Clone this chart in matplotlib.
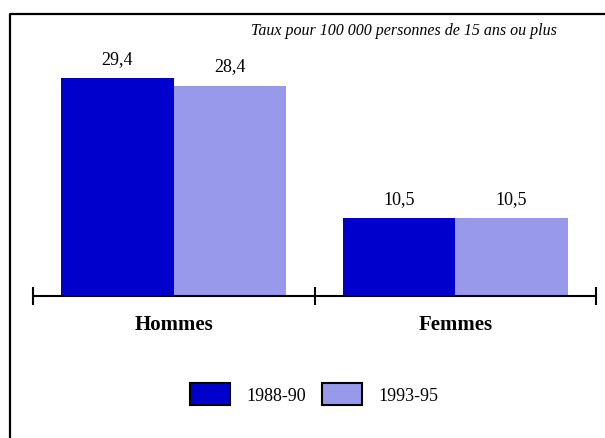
import numpy as np
import matplotlib.pyplot as plt
from matplotlib.patches import Patch
from matplotlib.lines import Line2D

# Données
categories = ['Hommes', 'Femmes']
periodes = ['1988-90', '1993-95']
taux_1988_90 = [29.4, 10.5]
taux_1993_95 = [28.4, 10.5]
couleurs = ['#0000CC', '#9999EB']
note = 'Taux pour 100 000 personnes de 15 ans ou plus'

plt.rcParams['font.family'] = ['Liberation Serif', 'DejaVu Serif']

W, H = 605, 439
fig = plt.figure(figsize=(W / 100, H / 100), dpi=100)

# axes en pixels : x de 33 à 596, ligne de base à y=297
ax_left, ax_right, ax_base, ax_top = 33, 596, 297, 40
ax = fig.add_axes([ax_left / W, (H - ax_base) / H,
                   (ax_right - ax_left) / W, (ax_base - ax_top) / H])
ax.set_xlim(0, len(categories))
ax.set_ylim(0, (ax_base - ax_top) / 7.405)

x = np.arange(len(categories)) + 0.5
largeur = 0.4
series = [taux_1988_90, taux_1993_95]
for i, (vals, coul) in enumerate(zip(series, couleurs)):
    pos = x + (i - 0.5) * largeur
    ax.bar(pos, vals, width=largeur, color=coul, edgecolor='none')
    for px, v in zip(pos, vals):
        ax.annotate(f"{v:.1f}".replace('.', ','), (px, v),
                    xytext=(0, 11), textcoords='offset points',
                    ha='center', va='baseline', fontsize=13)

# axe horizontal avec graduations
for s in ['top', 'left', 'right']:
    ax.spines[s].set_visible(False)
ax.spines['bottom'].set_linewidth(1.5)
ax.set_yticks([])
ax.set_xticks(np.arange(len(categories) + 1))
ax.set_xticklabels([])
ax.tick_params(axis='x', direction='inout', length=13.5, width=1.5)
ax.spines['bottom'].set_capstyle('butt')

for px, cat in zip(x, categories):
    ax.annotate(cat, (px, 0), xytext=(0, -20), textcoords='offset points',
                ha='center', va='center', fontsize=15, fontweight='bold')

# note en italique
fig.text(557 / W, 1 - 35 / H, note, ha='right', va='baseline',
         fontsize=11.5, style='italic')

# légende
poignees = [Patch(facecolor=c, edgecolor='black', linewidth=1.5) for c in couleurs]
fig.legend(poignees, periodes, loc='center', ncol=2, frameon=False,
           bbox_to_anchor=(314 / W, 1 - 395 / H), fontsize=13,
           handlelength=2.2, handleheight=1.55, handletextpad=0.9,
           columnspacing=0.9, borderpad=0)

# cadre (gauche et haut)
fig.add_artist(Line2D([10 / W, 10 / W, 1.0], [0, 1 - 15 / H, 1 - 15 / H],
                      transform=fig.transFigure, color='black', linewidth=1.6))

fig.savefig('out.png', dpi=100)
